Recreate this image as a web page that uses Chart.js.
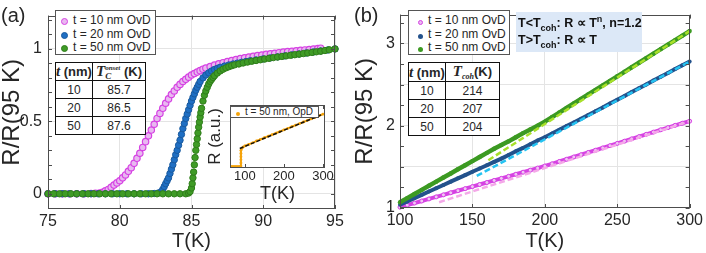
<!DOCTYPE html>
<html>
<head>
<meta charset="utf-8">
<script src="https://cdn.jsdelivr.net/npm/chart.js@4.4.1/dist/chart.umd.min.js"></script>
<style>
  body { margin: 0; background: #fff; }
  #fig { position: relative; width: 706px; height: 253px; overflow: hidden;
         font-family: "Liberation Sans", Arial, sans-serif; color: #262626; }
  canvas { position: absolute; }
  .plabel { position: absolute; top: 4px; font-size: 20px; }
  .legend { position: absolute; box-sizing: border-box; background: #fff; border: 1px solid #555;
            font-size: 12px; line-height: 13.5px; padding-top: 3px; }
  .legend div { white-space: nowrap; height: 13.5px; }
  .mk { display: inline-block; box-sizing: border-box; border-radius: 50%; vertical-align: -1px; }
  table.tc { position: absolute; border-collapse: collapse; background: #fff; font-size: 12px; }
  table.tc td { border: 1.5px solid #111; text-align: center; padding: 0; height: 17px; white-space: nowrap; }
  table.tc tr.h td { height: 15px; font-weight: bold; font-size: 13px; }
  .mt { font-family: "Liberation Serif", "DejaVu Serif", serif; font-style: italic; font-weight: bold; font-size: 15px; }
  .note { position: absolute; left: 516px; top: 12px; width: 126px; height: 40px; background: #dce8f7;
          font-weight: bold; font-size: 12.5px; color: #111; line-height: 17px; padding: 3px 0 0 2px;
          box-sizing: border-box; white-space: nowrap; }
  .note sub { font-size: 9px; line-height: 0; }
  .note sup { font-size: 9px; line-height: 0; }
</style>
</head>
<body>
<div id="fig">
  <canvas id="chartA" width="353" height="253" style="left:0;top:0"></canvas>
  <canvas id="chartIn" width="130" height="105" style="left:205px;top:100px"></canvas>
  <canvas id="chartB" width="353" height="253" style="left:353px;top:0"></canvas>

  <div class="plabel" style="left:1px">(a)</div>
  <div class="plabel" style="left:354px">(b)</div>

  <div class="legend" style="left:55px;top:10px;width:101px;height:45px">
    <div><span class="mk" style="width:7px;height:7px;margin:0 5px 0 5px;background:#e8b8f0;border:1.5px solid #d642e3"></span>t = 10 nm OvD</div>
    <div><span class="mk" style="width:7px;height:7px;margin:0 5px 0 5px;background:#1f6fc4;border:1px solid #1a5a9e"></span>t = 20 nm OvD</div>
    <div><span class="mk" style="width:7px;height:7px;margin:0 5px 0 5px;background:#3f9b26;border:1px solid #2f7d1a"></span>t = 50 nm OvD</div>
  </div>
  <table class="tc" style="left:55px;top:62px;width:91px">
    <tr class="h"><td style="width:35px"><span class="mt">t</span> (nm)</td>
      <td><span class="mt">T</span><span style="display:inline-block;vertical-align:-3px;line-height:7px;text-align:left;font:italic bold 7px 'Liberation Serif',serif"><span style="display:block">onset</span><span style="display:block;font-size:9px;line-height:8px">C</span></span> (K)</td></tr>
    <tr><td>10</td><td>85.7</td></tr>
    <tr><td>20</td><td>86.5</td></tr>
    <tr><td>50</td><td>87.6</td></tr>
  </table>

  <div class="legend" style="left:230px;top:106px;width:89px;height:12px;font-size:10px;line-height:10px;padding-top:0">
    <div><span class="mk" style="width:4px;height:4px;margin:0 5px 0 5px;background:#f5a30a"></span>t = 50 nm, OpD</div>
  </div>

  <div class="legend" style="left:408px;top:10px;width:102px;height:45px">
    <div><span class="mk" style="width:5px;height:5px;margin:0 5px 0 9px;background:#e8b8f0;border:1px solid #d642e3"></span>t = 10 nm OvD</div>
    <div><span class="mk" style="width:5px;height:5px;margin:0 5px 0 9px;background:#23528c"></span>t = 20 nm OvD</div>
    <div><span class="mk" style="width:5px;height:5px;margin:0 5px 0 9px;background:#3c9a22"></span>t = 50 nm OvD</div>
  </div>
  <table class="tc" style="left:408px;top:62px;width:92px">
    <tr class="h"><td style="width:35px"><span class="mt">t</span> (nm)</td>
      <td><span class="mt">T</span><span style="font:italic bold 8px 'Liberation Serif',serif;vertical-align:-3px">coh</span>(K)</td></tr>
    <tr><td>10</td><td>214</td></tr>
    <tr><td>20</td><td>207</td></tr>
    <tr><td>50</td><td>204</td></tr>
  </table>

  <div class="note">T&lt;T<sub>coh</sub>: R &#x221D; T<sup>n</sup>, n=1.2<br>T&gt;T<sub>coh</sub>: R &#x221D; T</div>
</div>

<script>
// ---- panel (a): R/R(95K) vs T near the transition ----
const tMagA = [75,75.5,76,76.5,77,77.5,78,78.3,78.6,78.8,79,79.2,79.4,79.6,79.8,80,80.2,80.4,80.6,80.8,
  81,81.2,81.4,81.6,81.8,82,82.2,82.4,82.6,82.8,83,83.2,83.4,83.6,83.8,84,84.2,84.4,84.6,84.8,
  85,85.2,85.4,85.6,85.8,86,86.3,86.6,86.9,87.2,87.5,87.8,88.1,88.4,88.7,89,89.3,89.6,89.9,
  90.2,90.5,90.8,91.1,91.4,91.7,92,92.3,92.6,92.9,93.2,93.5,93.8,94];
const rMagA = [0,0,0,0,0,0,0.002,0.003,0.005,0.01,0.02,0.03,0.045,0.06,0.075,0.09,0.11,0.13,0.155,0.18,
  0.21,0.245,0.28,0.32,0.36,0.40,0.44,0.48,0.52,0.555,0.59,0.625,0.655,0.685,0.71,0.735,0.755,0.775,0.79,0.805,
  0.82,0.83,0.84,0.85,0.86,0.868,0.878,0.888,0.897,0.905,0.913,0.92,0.927,0.933,0.939,0.944,0.949,0.954,0.958,
  0.962,0.966,0.97,0.974,0.978,0.981,0.984,0.987,0.99,0.993,0.996,0.999,1.002,1.005];

const tBlueA = [75,75.5,76,76.5,77,77.5,78,78.5,79,79.5,80,80.5,81,81.5,82,82.4,82.7,82.9,
  83,83.1,83.2,83.3,83.4,83.5,83.6,83.7,83.8,83.9,84,84.1,84.2,84.3,84.4,84.5,84.6,84.7,84.8,84.9,
  85,85.1,85.2,85.3,85.4,85.5,85.6,85.8,86,86.2,86.4,86.6,86.8,87,87.3,87.6,87.9,88.2,88.5,88.8,89.1,
  89.5,90,90.5,91,91.5,92,92.5,93,93.5,94,94.5,95];
const rBlueA = [0,0,0,0,0,0,0,0,0,0,0,0,0,0,0,0.002,0.006,0.015,
  0.03,0.05,0.07,0.09,0.11,0.14,0.17,0.2,0.235,0.27,0.3,0.335,0.37,0.41,0.45,0.485,0.52,0.55,0.58,0.61,
  0.64,0.665,0.69,0.715,0.735,0.755,0.775,0.8,0.82,0.835,0.848,0.858,0.866,0.873,0.882,0.889,0.896,0.902,0.908,0.913,0.918,
  0.924,0.931,0.938,0.945,0.952,0.959,0.965,0.972,0.979,0.986,0.993,1.0];

const tGreenA = [75,75.4,75.8,76.2,76.6,77,77.4,77.8,78.2,78.6,79,79.4,79.8,80.2,80.6,81,81.4,81.8,82.2,82.6,
  83,83.4,83.8,84.2,84.6,84.8,84.9,85,85.05,85.1,85.15,85.2,85.25,85.3,85.35,85.4,85.45,85.5,85.55,85.6,85.65,85.7,
  85.8,85.9,86,86.1,86.2,86.3,86.4,86.5,86.6,86.8,87,87.2,87.4,87.6,87.8,88,88.3,88.6,88.9,89.2,89.5,89.8,90.1,
  90.4,90.7,91,91.3,91.6,91.9,92.2,92.5,92.8,93.1,93.4,93.7,94,94.3,94.6,95];
const rGreenA = [0,0,0,0,0,0,0,0,0,0,0,0,0,0,0,0,0,0,0,0,
  0,0,0,0,0,0.005,0.015,0.04,0.07,0.11,0.15,0.2,0.25,0.3,0.34,0.38,0.42,0.46,0.495,0.53,0.56,0.59,
  0.64,0.68,0.71,0.735,0.758,0.776,0.79,0.803,0.815,0.833,0.848,0.86,0.869,0.877,0.884,0.89,0.896,0.903,0.909,0.915,0.92,0.925,0.93,
  0.935,0.94,0.944,0.948,0.952,0.956,0.96,0.964,0.968,0.972,0.976,0.98,0.984,0.989,0.994,1.0];

const xTicksA = [75, 80, 85, 90, 95];
const yTicksA = [-0.1, 0, 0.1, 0.2, 0.3, 0.4, 0.5, 0.6, 0.7, 0.8, 0.9, 1, 1.1, 1.2];
const yLabelsA = [0, 0.5, 1];

// ---- inset of (a): 50 nm OpD film, R (a.u.) vs T ----
const tIn = [64,67,70,73,76,79,82,85,88,90,90,90,90,90,90,92,95,100,
  110,120,130,140,150,160,170,180,190,200,210,220,230,240,250,260,270,280,290,300];
const rIn = [0.02,0.02,0.02,0.02,0.02,0.02,0.02,0.02,0.02,0.03,0.08,0.13,0.18,0.23,0.28,0.31,0.33,0.35,
  0.375,0.40,0.43,0.455,0.48,0.505,0.53,0.555,0.58,0.605,0.63,0.655,0.68,0.705,0.73,0.755,0.78,0.805,0.83,0.855];
const tFitIn = [87, 300];
const rFitIn = [0.31, 0.855];
const xTicksIn = [100, 200, 300];

// ---- panel (b): normal state up to 300 K ----
const tB = [100,105,110,115,120,125,130,135,140,145,150,155,160,165,170,175,180,185,190,195,
  200,205,210,215,220,225,230,235,240,245,250,255,260,265,270,275,280,285,290,295,300];
const rMagB = [1.01,1.035,1.06,1.085,1.11,1.135,1.16,1.185,1.21,1.235,1.26,1.285,1.31,1.335,1.36,1.385,1.41,1.435,1.46,1.485,
  1.51,1.537,1.565,1.592,1.62,1.647,1.675,1.702,1.73,1.757,1.785,1.812,1.84,1.867,1.895,1.922,1.95,1.977,2.005,2.03,2.055];
const rBlueB = [1.04,1.08,1.12,1.16,1.2,1.24,1.28,1.32,1.36,1.4,1.44,1.48,1.52,1.56,1.6,1.645,1.69,1.73,1.775,1.82,
  1.86,1.905,1.95,1.995,2.04,2.085,2.13,2.175,2.22,2.27,2.315,2.36,2.41,2.455,2.5,2.55,2.595,2.64,2.69,2.735,2.78];
const rGreenB = [1.07,1.12,1.17,1.22,1.27,1.32,1.37,1.42,1.47,1.52,1.57,1.62,1.67,1.72,1.765,1.81,1.86,1.91,1.955,2.0,
  2.05,2.105,2.16,2.215,2.27,2.325,2.38,2.435,2.49,2.545,2.6,2.655,2.71,2.765,2.82,2.875,2.93,2.985,3.04,3.095,3.15];
// linear fits above T_coh
const tFitMag = [127, 300], rFitMag = [1.07, 2.055];
const tFitBlue = [153, 300], rFitBlue = [1.39, 2.78];
const tFitGreen = [161, 300], rFitGreen = [1.58, 3.15];

const xTicksB = [100, 150, 200, 250, 300];
const yTicksB = [1, 1.25, 1.5, 1.75, 2, 2.25, 2.5, 2.75, 3, 3.25];
const yLabelsB = [1, 2, 3];
const yGridB = [1.5, 2, 2.5, 3];

Chart.defaults.font.family = "'Liberation Sans', Arial, sans-serif";
Chart.defaults.color = "#262626";

function pts(xs, ys) {
  return xs.map((x, i) => ({ x: x, y: ys[i] }));
}
function near(list, v) {
  return list.some(m => Math.abs(m - v) < 1e-6);
}

/* MATLAB-like box: frame on four sides and inward tick marks */
const boxPlugin = {
  id: "box",
  beforeDraw(chart, args, opts) {
    if (!opts.fill) return;
    const a = chart.chartArea;
    chart.ctx.save();
    chart.ctx.fillStyle = "#fff";
    chart.ctx.fillRect(a.left, a.top, a.right - a.left, a.bottom - a.top);
    chart.ctx.restore();
  },
  afterDraw(chart, args, opts) {
    const { ctx, chartArea: a, scales } = chart;
    const L = 4;
    ctx.save();
    ctx.strokeStyle = "#4d4d4d";
    ctx.lineWidth = 1;
    ctx.beginPath();
    scales.x.ticks.forEach(t => {
      const p = Math.round(scales.x.getPixelForValue(t.value)) + 0.5;
      ctx.moveTo(p, a.bottom); ctx.lineTo(p, a.bottom - L);
      ctx.moveTo(p, a.top); ctx.lineTo(p, a.top + L);
    });
    if (opts.yTicks !== false) {
      scales.y.ticks.forEach(t => {
        const p = Math.round(scales.y.getPixelForValue(t.value)) + 0.5;
        ctx.moveTo(a.left, p); ctx.lineTo(a.left + L, p);
        ctx.moveTo(a.right, p); ctx.lineTo(a.right - L, p);
      });
    }
    ctx.stroke();
    ctx.strokeRect(Math.round(a.left) + 0.5, Math.round(a.top) + 0.5,
      Math.round(a.right - a.left) - 1, Math.round(a.bottom - a.top) - 1);
    ctx.restore();
  }
};

const tickFont = { size: 16 };
const titleFont = { size: 20 };
const yTitleFont = { size: 24 };

// panel (a)
new Chart(document.getElementById("chartA"), {
  type: "line",
  data: {
    datasets: [
      { data: pts(tMagA, rMagA), order: 3, showLine: false, pointRadius: 3.2, pointBorderWidth: 1.2,
        pointBackgroundColor: "#e8b8f0", pointBorderColor: "#d642e3", clip: 6 },
      { data: pts(tBlueA, rBlueA), order: 2, showLine: false, pointRadius: 3.2, pointBorderWidth: 1,
        pointBackgroundColor: "#1f6fc4", pointBorderColor: "#1a5a9e", clip: 6 },
      { data: pts(tGreenA, rGreenA), order: 1, showLine: false, pointRadius: 3.2, pointBorderWidth: 1,
        pointBackgroundColor: "#3f9b26", pointBorderColor: "#2f7d1a", clip: 6 }
    ]
  },
  options: {
    responsive: false, animation: false, devicePixelRatio: 1,
    layout: { padding: { left: 0, right: 18, top: 4, bottom: 0 } },
    plugins: { legend: { display: false }, tooltip: { enabled: false }, box: {} },
    scales: {
      x: {
        type: "linear", min: 75, max: 95,
        afterBuildTicks: s => { s.ticks = xTicksA.map(v => ({ value: v })); },
        afterFit: s => { s.height = 44; },
        ticks: { font: tickFont, padding: 3, maxRotation: 0, autoSkip: false },
        grid: { color: "#e4e4e4", drawTicks: false },
        border: { display: false },
        title: { display: true, text: "T(K)", font: titleFont, padding: 0 }
      },
      y: {
        min: -0.105, max: 1.23,
        afterBuildTicks: s => { s.ticks = yTicksA.map(v => ({ value: v })); },
        afterFit: s => { s.width = 48; },
        ticks: { font: tickFont, padding: 6, autoSkip: false,
          callback: v => (near(yLabelsA, v) ? String(Math.round(v * 10) / 10) : "") },
        grid: { color: c => (c.tick && near(yLabelsA, c.tick.value) ? "#e4e4e4" : "rgba(0,0,0,0)"), drawTicks: false },
        border: { display: false },
        title: { display: true, text: "R/R(95 K)", font: yTitleFont, padding: { top: -2, bottom: 0 } }
      }
    }
  },
  plugins: [boxPlugin]
});

// inset of (a)
new Chart(document.getElementById("chartIn"), {
  type: "line",
  data: {
    datasets: [
      { data: pts(tFitIn, rFitIn), order: 0, borderColor: "#111", borderWidth: 1.5, borderDash: [4, 2],
        pointRadius: 0 },
      { data: pts(tIn, rIn), order: 1, borderColor: "#f5a30a", borderWidth: 2, pointRadius: 1.4,
        pointBorderWidth: 0, pointBackgroundColor: "#f5a30a" }
    ]
  },
  options: {
    responsive: false, animation: false, devicePixelRatio: 1,
    layout: { padding: { left: 0, right: 8, top: 5, bottom: 0 } },
    plugins: { legend: { display: false }, tooltip: { enabled: false }, box: { fill: true, yTicks: false } },
    scales: {
      x: {
        type: "linear", min: 62, max: 305,
        afterBuildTicks: s => { s.ticks = xTicksIn.map(v => ({ value: v })); },
        afterFit: s => { s.height = 37; },
        ticks: { font: { size: 13 }, padding: 1, maxRotation: 0, autoSkip: false },
        grid: { display: false, drawTicks: false },
        border: { display: false },
        title: { display: true, text: "T(K)", font: { size: 18 }, padding: 0 }
      },
      y: {
        min: 0, max: 1,
        afterFit: s => { s.width = 25; },
        ticks: { display: false },
        grid: { display: false, drawTicks: false },
        border: { display: false },
        title: { display: true, text: "R (a.u.)", font: { size: 17 }, padding: 0 }
      }
    }
  },
  plugins: [boxPlugin]
});

// panel (b)
new Chart(document.getElementById("chartB"), {
  type: "line",
  data: {
    datasets: [
      { data: pts(tB, rMagB), order: 5, borderColor: "#d642e3", borderWidth: 4, pointRadius: 2,
        pointBorderWidth: 1, pointBackgroundColor: "#f0c6f4", pointBorderColor: "#d642e3", clip: 4 },
      { data: pts(tB, rBlueB), order: 4, borderColor: "#23528c", borderWidth: 4, pointRadius: 2,
        pointBorderWidth: 0, pointBackgroundColor: "#23528c", clip: 4 },
      { data: pts(tB, rGreenB), order: 3, borderColor: "#3c9a22", borderWidth: 4.5, pointRadius: 2.2,
        pointBorderWidth: 0, pointBackgroundColor: "#3c9a22", clip: 4 },
      { data: pts(tFitMag, rFitMag), order: 2, borderColor: "#f4a8e8", borderWidth: 2.5,
        borderDash: [6, 3], pointRadius: 0 },
      { data: pts(tFitBlue, rFitBlue), order: 1, borderColor: "#25c3f2", borderWidth: 2.5,
        borderDash: [6, 3], pointRadius: 0 },
      { data: pts(tFitGreen, rFitGreen), order: 0, borderColor: "#a8e02a", borderWidth: 2.5,
        borderDash: [6, 3], pointRadius: 0 }
    ]
  },
  options: {
    responsive: false, animation: false, devicePixelRatio: 1,
    layout: { padding: { left: 0, right: 13, top: 4, bottom: 0 } },
    plugins: { legend: { display: false }, tooltip: { enabled: false }, box: {} },
    scales: {
      x: {
        type: "linear", min: 100, max: 300,
        afterBuildTicks: s => { s.ticks = xTicksB.map(v => ({ value: v })); },
        afterFit: s => { s.height = 45; },
        ticks: { font: tickFont, padding: 3, maxRotation: 0, autoSkip: false },
        grid: { color: "#e4e4e4", drawTicks: false },
        border: { display: false },
        title: { display: true, text: "T(K)", font: titleFont, padding: 0 }
      },
      y: {
        min: 1, max: 3.35,
        afterBuildTicks: s => { s.ticks = yTicksB.map(v => ({ value: v })); },
        afterFit: s => { s.width = 47; },
        ticks: { font: tickFont, padding: 5, autoSkip: false,
          callback: v => (near(yLabelsB, v) ? String(v) : "") },
        grid: { color: c => (c.tick && near(yGridB, c.tick.value) ? "#e4e4e4" : "rgba(0,0,0,0)"), drawTicks: false },
        border: { display: false },
        title: { display: true, text: "R/R(95 K)", font: yTitleFont, padding: { top: -2, bottom: 0 } }
      }
    }
  },
  plugins: [boxPlugin]
});
</script>
</body>
</html>
